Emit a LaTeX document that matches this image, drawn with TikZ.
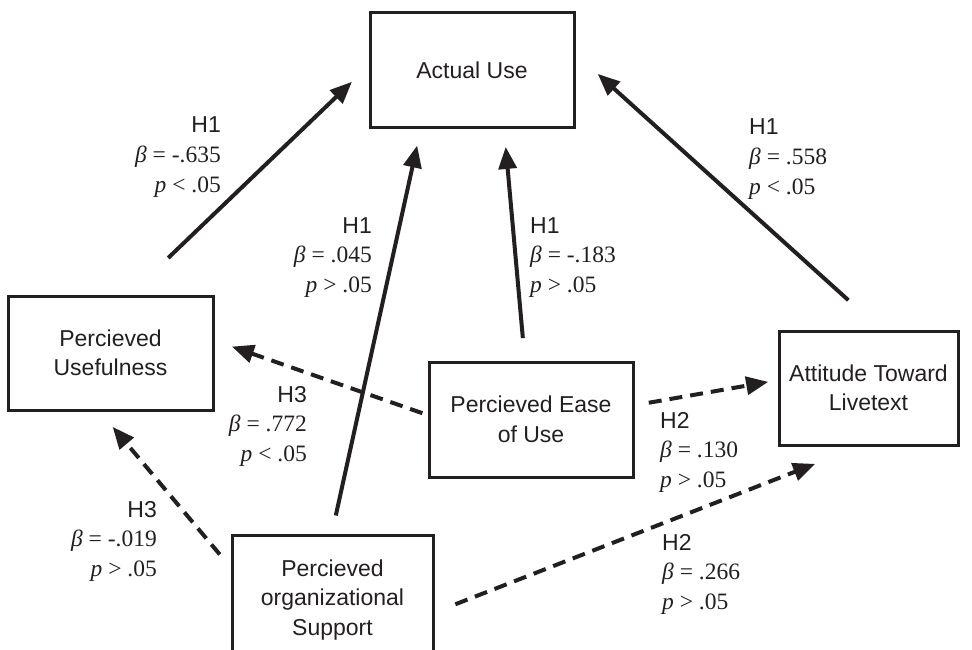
\documentclass[tikz,border=0pt]{standalone}
\usepackage{fontspec}
\setmainfont{Liberation Serif}
\setsansfont{Liberation Sans}
\usetikzlibrary{arrows.meta}
\definecolor{ink}{RGB}{35,31,32}
\tikzset{
 box/.style={draw=ink, line width=3pt, align=center, font=\sffamily\fontsize{23}{29.5}\selectfont, text=ink, inner sep=0pt, outer sep=0pt},
 arr/.style={draw=ink, line width=4pt, -{Triangle[length=22pt,width=18pt]}},
 dsh/.style={arr, dash pattern=on 13pt off 8pt},
 hlab/.style={font=\sffamily\fontsize{23}{29.5}\selectfont, text=ink, inner sep=0pt},
 slab/.style={font=\rmfamily\fontsize{23.5}{29.5}\selectfont, text=ink, inner sep=0pt},
}
\newcommand\hyplab[7]{%
 \node[hlab, anchor=base #4] (#1h) at (#2,#3) {#5};
 \node[slab, anchor=base #4] (#1b) at (#2,#3+29.5) {\textit{β} = #6};
 \node[slab, anchor=base #4] (#1p) at (#2,#3+59) {\textit{p} #7};
}
\begin{document}
\begin{tikzpicture}[x=1pt,y=-1pt]
\useasboundingbox (0,0) rectangle (972,650);
% boxes
\node[box, minimum width=204, minimum height=115] (AU) at (472,70.5) {Actual Use};
\node[box, minimum width=205, minimum height=114] (PU) at (110.5,353) {Percieved\\Usefulness};
\node[box, minimum width=204, minimum height=115] (PEU) at (531,419.5) {Percieved Ease\\of Use};
\node[box, minimum width=179, minimum height=114] (ATL) at (868.5,388) {Attitude Toward\\Livetext};
\node[box, minimum width=201, minimum height=130] (POS) at (332.5,600) {Percieved\\organizational\\Support};
% arrows
\draw[arr, shorten <=55pt, shorten >=25pt] ([xshift=18pt]PU.north) -- ([yshift=6pt]AU.west);
\draw[arr, shorten <=20pt, shorten >=18pt] ([xshift=-1pt]POS.north) -- ([xshift=-51pt]AU.south);
\draw[arr, shorten <=24pt, shorten >=19pt] ([xshift=-6pt]PEU.north) -- ([xshift=32pt]AU.south);
\draw[arr, shorten <=46pt, shorten >=32pt] ([xshift=14pt]ATL.north) -- ([yshift=18pt]AU.east);
\draw[dsh, shorten <=7pt, shorten >=20pt] ([yshift=4pt]PEU.west) -- ([yshift=13pt]PU.east);
\draw[dsh, shorten <=16pt, shorten >=11pt] ([yshift=14pt]PEU.east) -- ([yshift=8pt]ATL.west);
\draw[dsh, shorten <=19pt, shorten >=22pt] ([yshift=-34pt]POS.north west) -- ([xshift=-12pt]PU.south);
\draw[dsh, shorten <=24pt, shorten >=52pt] ([yshift=-78pt]POS.north east) -- ([xshift=-5pt]ATL.south);
% labels
\hyplab{la}{221}{133}{east}{H1}{-.635}{< .05}
\hyplab{lb}{372}{233}{east}{H1}{.045}{> .05}
\hyplab{lc}{530}{233}{west}{H1}{-.183}{> .05}
\hyplab{ld}{749}{135}{west}{H1}{.558}{< .05}
\hyplab{le}{307}{402}{east}{H3}{.772}{< .05}
\hyplab{lf}{660}{428}{west}{H2}{.130}{> .05}
\hyplab{lg}{157}{517}{east}{H3}{-.019}{> .05}
\hyplab{lh}{662}{550}{west}{H2}{.266}{> .05}
\end{tikzpicture}
\end{document}
